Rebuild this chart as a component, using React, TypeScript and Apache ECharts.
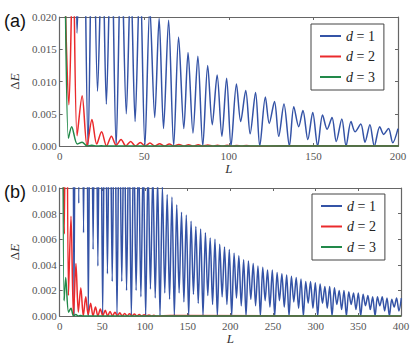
import React, { useEffect, useRef } from 'react';
import * as echarts from 'echarts';

const seriesNames = ['d = 1', 'd = 2', 'd = 3'];
const seriesColors = ['#3453a6', '#ea2a2c', '#22894a'];
const panelLabels = ['(a)', '(b)'];

// axis ranges (tick labels follow from these)
const xTicksA = [0, 50, 100, 150, 200];
const yTicksA = [0, 0.005, 0.01, 0.015, 0.02];
const xTicksB = [0, 50, 100, 150, 200, 250, 300, 350, 400];
const yTicksB = [0, 0.002, 0.004, 0.006, 0.008, 0.01];

// d = 1, panel (a): [L, ΔE] at read-off troughs and peaks
const d1PanelA: [number, number][] = [
  [1, 0.08], [3.2, 0.035], [7.5, 0.06], [10.3, 0.0175], [13.5, 0.05], [16.8, 0],
  [19.6, 0.042], [22.4, 0.0085], [25.2, 0.032], [27.6, 0.0065], [30.5, 0.034], [33.4, 0],
  [36.4, 0.031], [39.4, 0.005], [42, 0.026], [44.6, 0.0038], [47.5, 0.027], [50.4, 0],
  [53.3, 0.0215], [56.2, 0.0044], [58.8, 0.0198], [61.4, 0.0027], [64.4, 0.0195], [67.4, 0],
  [70.3, 0.0169], [73.4, 0.0027], [75.9, 0.0145], [78.8, 0.002], [81.7, 0.0139], [84.6, 0],
  [87.5, 0.0125], [90.2, 0.0033], [93.1, 0.011], [95.9, 0.0015], [98.7, 0.0105], [101.3, 0],
  [104.5, 0.0096], [107, 0.0038], [110, 0.0086], [112.6, 0.0019], [115.8, 0.0083], [118.3, 0],
  [121.6, 0.0076], [123.9, 0.0035], [127, 0.0069], [129.5, 0.0015], [132.6, 0.0065], [135.8, 0],
  [138.4, 0.0061], [141.3, 0.003], [143.8, 0.0055], [146.7, 0.001], [149.6, 0.0052], [152.5, 0],
  [155.4, 0.0048], [158.1, 0.0026], [161, 0.0044], [163.5, 0.0007], [166.8, 0.0042], [169.3, 0],
  [172.2, 0.0038], [174.6, 0.0022], [178, 0.0034], [180.5, 0.0006], [183.4, 0.0033], [186, 0],
  [189.2, 0.003], [191.5, 0.0018], [194.4, 0.0027], [196.9, 0.0005], [200, 0.0027],
];

// d = 1, panel (b)
const d1PanelB: [number, number][] = [
  [1, 0.09], [2.8, 0.09], [5.6, 0.04], [8.4, 0.06], [11.2, 0.0175], [14, 0.05], [16.8, 0],
  [19.6, 0.042], [22.4, 0.0088], [25.2, 0.034], [28, 0.0065], [30.8, 0.034], [33.6, 0],
  [36.4, 0.03], [39.2, 0.0052], [42, 0.027], [44.8, 0.0039], [47.6, 0.027], [50.4, 0],
  [53.2, 0.022], [56, 0.0033], [58.8, 0.021], [61.6, 0.0027], [64.4, 0.02], [67.2, 0],
  [70, 0.018], [72.8, 0.0027], [75.6, 0.016], [78.4, 0.002], [81.2, 0.015], [84, 0],
  [86.8, 0.014], [89.6, 0.002], [92.4, 0.013], [95.2, 0.0015], [98, 0.0125], [100.8, 0],
  [103.6, 0.0118], [106.4, 0.0021], [109.2, 0.0112], [112, 0.0014], [114.8, 0.0106], [117.6, 0],
  [120.4, 0.0101], [123.2, 0.0018], [126, 0.0095], [128.8, 0.0013], [131.6, 0.0093], [134.4, 0],
  [137.2, 0.0087], [140, 0.0018], [142.8, 0.0081], [145.6, 0.0011], [148.4, 0.0079], [151.2, 0],
  [154, 0.0074], [156.8, 0.0017], [159.6, 0.007], [162.4, 0.001], [165.2, 0.0068], [168, 0],
  [170.8, 0.0065], [173.6, 0.0016], [176.4, 0.0061], [179.2, 0.0009], [182, 0.006], [184.8, 0],
  [187.6, 0.0056], [190.4, 0.0015], [193.2, 0.0054], [196, 0.0009], [198.8, 0.0052], [201.6, 0],
  [204.4, 0.0049], [207.2, 0.0014], [210, 0.0047], [212.8, 0.0008], [215.6, 0.0044], [218.4, 0],
  [221.2, 0.0043], [224, 0.0013], [226.8, 0.0041], [229.6, 0.0008], [232.4, 0.0039], [235.2, 0],
  [238, 0.0038], [240.8, 0.0012], [243.6, 0.0036], [246.4, 0.0007], [249.2, 0.0036], [252, 0],
  [254.8, 0.0034], [257.6, 0.0012], [260.4, 0.0033], [263.2, 0.0007], [266, 0.0032], [268.8, 0],
  [271.6, 0.0031], [274.4, 0.0011], [277.2, 0.003], [280, 0.0006], [282.8, 0.0029], [285.6, 0],
  [288.4, 0.0027], [291.2, 0.001], [294, 0.0027], [296.8, 0.0006], [299.6, 0.0026], [302.4, 0],
  [305.2, 0.0025], [308, 0.001], [310.8, 0.0023], [313.6, 0.0006], [316.4, 0.0023], [319.2, 0],
  [322, 0.0022], [324.8, 0.0009], [327.6, 0.002], [330.4, 0.0005], [333.2, 0.002], [336, 0],
  [338.8, 0.0019], [341.6, 0.0009], [344.4, 0.0018], [347.2, 0.0005], [350, 0.0018], [352.8, 0],
  [355.6, 0.0017], [358.4, 0.0008], [361.2, 0.0016], [364, 0.0005], [366.8, 0.0015], [369.6, 0],
  [372.4, 0.0015], [375.2, 0.0008], [378, 0.0015], [380.8, 0.0004], [383.6, 0.0014], [386.4, 0],
  [389.2, 0.0013], [392, 0.0007], [394.8, 0.0014], [397.6, 0.0004], [400.4, 0.0014],
];

// d = 2 (same in both panels)
const d2Curve: [number, number][] = [
  [1, 0.1], [3.2, 0.025], [5.5, 0.0064], [7.9, 0.03], [10.3, 0.0016], [13.3, 0.0078],
  [16.2, 0], [19.1, 0.0041], [21.9, 0.0003], [24.8, 0.0022], [27.7, 0], [30.6, 0.0015],
  [33.4, 0.0001], [36.3, 0.001], [39.1, 0], [42, 0.0007], [44.8, 0], [47.7, 0.00055],
  [50.5, 0], [53.4, 0.00045], [56.2, 0], [59.1, 0.00035], [61.9, 0], [64.8, 0.0003],
  [67.6, 0], [70.5, 0.00025], [73.3, 0], [76.2, 0.0002], [79, 0], [81.9, 0.00018],
  [84.7, 0], [87.6, 0.00015], [90.4, 0], [93.3, 0.00012], [96.1, 0], [99, 0.0001],
  [101.8, 0], [104.7, 0.00008], [107.5, 0], [110.4, 0.00006], [113.2, 0], [130, 0.00003],
  [400, 0],
];

// d = 3 (same in both panels)
const d3Curve: [number, number][] = [
  [1, 0.1], [3.3, 0.025], [5.2, 0.0012], [7.1, 0.003], [10.4, 0.0003], [13.3, 0.0006],
  [16.2, 0], [19, 0.00012], [21.8, 0], [24.6, 0.00003], [27.4, 0], [400, 0],
];

const SERIF = 'Liberation Serif';
const FRAME = '#666';

export default function App() {
  const ref = useRef<HTMLDivElement>(null);

  useEffect(() => {
    if (!ref.current) return;
    const chart = echarts.init(ref.current, null, { renderer: 'svg' });

    const ticks = [xTicksA, yTicksA, xTicksB, yTicksB];
    const step = (t: number[]) => t[1] - t[0];

    const xBottom = (gridIndex: number, t: number[], nameGap: number) => ({
      type: 'value', gridIndex, min: t[0], max: t[t.length - 1], interval: step(t),
      position: 'bottom',
      name: 'L', nameLocation: 'middle', nameGap,
      nameTextStyle: { fontFamily: SERIF, fontStyle: 'italic', fontSize: 13, color: '#333' },
      axisLine: { show: true, onZero: false, lineStyle: { color: FRAME, width: 1.2 } },
      axisTick: { show: true, inside: true, length: 3, lineStyle: { color: FRAME } },
      axisLabel: { color: '#555', fontFamily: SERIF, fontSize: 11, margin: 4 },
      splitLine: { show: false },
    });
    const xTop = (gridIndex: number, t: number[]) => ({
      type: 'value', gridIndex, min: t[0], max: t[t.length - 1], interval: step(t),
      position: 'top',
      axisLine: { show: true, onZero: false, lineStyle: { color: FRAME, width: 1.2 } },
      axisTick: { show: true, inside: true, length: 3, lineStyle: { color: FRAME } },
      axisLabel: { show: false },
      splitLine: { show: false },
    });
    const yLeft = (gridIndex: number, t: number[], nameGap: number) => ({
      type: 'value', gridIndex, min: t[0], max: t[t.length - 1], interval: step(t),
      position: 'left',
      name: '{d|Δ}{e|E}', nameLocation: 'middle', nameGap,
      nameTextStyle: {
        fontFamily: SERIF, fontSize: 13, color: '#333',
        rich: {
          d: { fontFamily: SERIF, fontSize: 13, color: '#333' },
          e: { fontFamily: SERIF, fontSize: 13, color: '#333', fontStyle: 'italic' },
        },
      },
      axisLine: { show: true, onZero: false, lineStyle: { color: FRAME, width: 1.2 } },
      axisTick: { show: true, inside: true, length: 3, lineStyle: { color: FRAME } },
      axisLabel: {
        color: '#555', fontFamily: SERIF, fontSize: 11, margin: 3,
        formatter: (v: number) => v.toFixed(3),
      },
      splitLine: { show: false },
    });
    const yRight = (gridIndex: number, t: number[]) => ({
      type: 'value', gridIndex, min: t[0], max: t[t.length - 1], interval: step(t),
      position: 'right',
      axisLine: { show: true, onZero: false, lineStyle: { color: FRAME, width: 1.2 } },
      axisTick: { show: true, inside: true, length: 3, lineStyle: { color: FRAME } },
      axisLabel: { show: false },
      splitLine: { show: false },
    });

    const panelData = [
      [d1PanelA, d2Curve, d3Curve],
      [d1PanelB, d2Curve, d3Curve],
    ];

    const series: any[] = [];
    panelData.forEach((curves, p) => {
      curves.forEach((data, i) => {
        series.push({
          type: 'line',
          name: seriesNames[i],
          xAxisIndex: p * 2,
          yAxisIndex: p * 2,
          data,
          symbol: 'none',
          showSymbol: false,
          smooth: 0.3,
          clip: true,
          lineStyle: { color: seriesColors[i], width: 1.5 },
          itemStyle: { color: seriesColors[i] },
          z: 2 + i,
        });
      });
    });

    const legendBase = {
      data: seriesNames,
      orient: 'vertical',
      icon: 'rect',
      itemWidth: 21,
      itemHeight: 2,
      itemGap: 4.5,
      itemTextGap: 14,
      padding: [4, 9, 5, 9],
      backgroundColor: '#fff',
      borderColor: '#444',
      borderWidth: 1,
      borderRadius: 0,
      selectedMode: false,
      formatter: (name: string) => `{i|d} = ${name.split('= ')[1]}`,
      textStyle: {
        fontFamily: SERIF, fontSize: 14, color: '#222', lineHeight: 16,
        rich: {
          i: { fontFamily: SERIF, fontSize: 14, color: '#222', fontStyle: 'italic', lineHeight: 16 },
        },
      },
    };

    const option: any = {
      animation: false,
      color: seriesColors,
      textStyle: { fontFamily: SERIF },
      grid: [
        { left: 53, top: 17, width: 345, height: 129, show: false },
        { left: 55, top: 188, width: 346, height: 128, show: false },
      ],
      xAxis: [
        xBottom(0, ticks[0], 11), xTop(0, ticks[0]),
        xBottom(1, ticks[2], 15), xTop(1, ticks[2]),
      ],
      yAxis: [
        yLeft(0, ticks[1], 36), yRight(0, ticks[1]),
        yLeft(1, ticks[3], 37), yRight(1, ticks[3]),
      ],
      legend: [
        { ...legendBase, left: 311, top: 24 },
        { ...legendBase, left: 312, top: 194 },
      ],
      graphic: [
        { type: 'text', left: 4, top: 12, style: { text: panelLabels[0], font: '18px "Liberation Sans"', fill: '#111' } },
        { type: 'text', left: 4, top: 183, style: { text: panelLabels[1], font: '18px "Liberation Sans"', fill: '#111' } },
      ],
      series,
    };

    chart.setOption(option);
    return () => chart.dispose();
  }, []);

  return (
    <div
      ref={ref}
      style={{ position: 'absolute', left: 0, top: 0, width: 415, height: 347, background: '#fff' }}
    />
  );
}
